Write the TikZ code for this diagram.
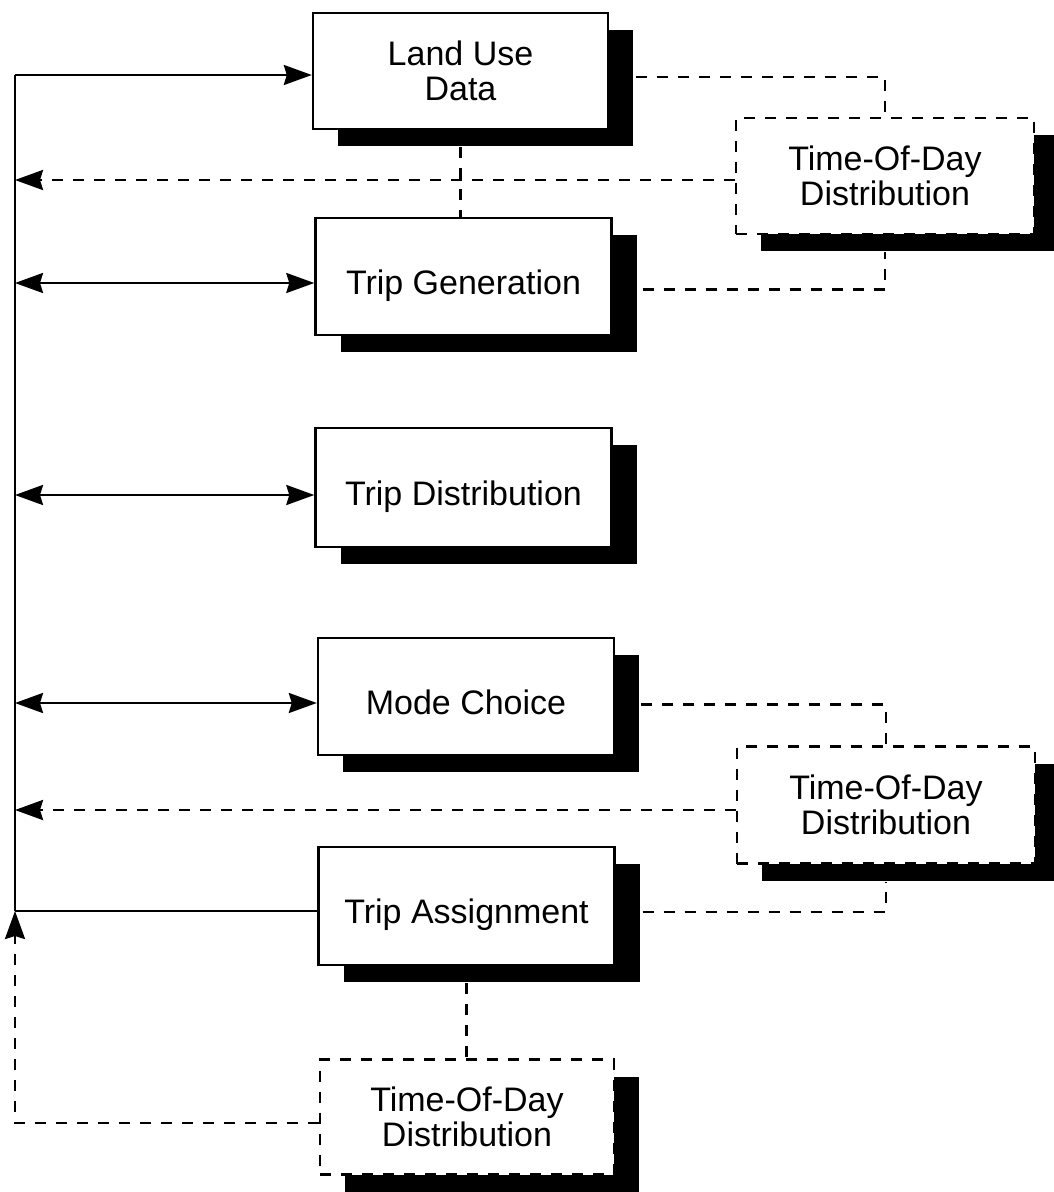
\documentclass[tikz,border=0pt]{standalone}
\usepackage{fontspec}
\setsansfont{Liberation Sans}
\usetikzlibrary{arrows.meta,shadows}

\begin{document}
\begin{tikzpicture}[
    x=1pt, y=-1pt,
    stage/.style={draw=black, line width=2.4pt, fill=white, minimum width=296pt, minimum height=117pt, inner sep=0pt, align=center, font=\sffamily\fontsize{34}{35}\selectfont,
      drop shadow={shadow xshift=25pt, shadow yshift=-17pt, opacity=1, fill=black, draw=none}},
    onerow/.style={text height=35pt, text depth=0pt},
    todbox/.style={stage, dash pattern=on 11pt off 10pt},
    arr/.style={-{Stealth[length=28pt,width=20pt,inset=3pt]}, line width=2.4pt},
    biarr/.style={{Stealth[length=28pt,width=20pt,inset=3pt]}-{Stealth[length=28pt,width=20pt,inset=3pt]}, line width=2.4pt},
    wire/.style={line width=2.4pt},
    link/.style={line width=2.6pt, dash pattern=on 11pt off 10pt},
    dasharr/.style={arr, line width=2.6pt, dash pattern=on 11pt off 10pt},
]
\path[use as bounding box, fill=white] (0,0) rectangle (1054,1192);

% ===== MODEL STEPS =====
\node[stage, minimum width=295pt, minimum height=116pt] (landuse) at (460.5,71) {Land Use\\Data};
\node[stage, onerow] (tripgen) at (463.5,276.5) {Trip Generation};
\node[stage, onerow, minimum height=119pt] (tripdist) at (463.5,487.5) {Trip Distribution};
\node[stage, onerow] (mode) at (466,696.5) {Mode Choice};
\node[stage, onerow, minimum height=118pt] (assign) at (466.5,906) {Trip Assignment};

% ===== TIME-OF-DAY BOXES =====
\node[todbox, minimum width=298pt, minimum height=116pt] (tod1) at (885,176) {Time-Of-Day\\Distribution};
\node[todbox, minimum width=298pt] (tod2) at (886,805) {Time-Of-Day\\Distribution};
\node[todbox, minimum width=294pt, minimum height=115pt] (tod3) at (467,1117) {Time-Of-Day\\Distribution};

% ===== FEEDBACK SPINE =====
\coordinate (sp1) at (15,75);
\coordinate (sp2) at (15,180);
\coordinate (sp3) at (15,283);
\coordinate (sp4) at (15,495);
\coordinate (sp5) at (15,703);
\coordinate (sp6) at (15,810);
\coordinate (sp7) at (15,911);
\coordinate (sp8) at (15,1123);

\draw[wire] (sp1) -- (sp7);
\draw[arr] (sp1) -- (sp1 -| landuse.west);
\draw[biarr] (sp3) -- (sp3 -| tripgen.west);
\draw[biarr] (sp4) -- (sp4 -| tripdist.west);
\draw[biarr] (sp5) -- (sp5 -| mode.west);
\draw[wire] (sp7 -| assign.west) -- (sp7);
\draw[dasharr] (sp2 -| tod1.west) -- (sp2);
\draw[dasharr] (sp6 -| tod2.west) -- (sp6);
\draw[dasharr] (sp8 -| tod3.west) -- (sp8) -- (sp7);

% ===== DASHED LINKS =====
\draw[link] ([yshift=-17pt]landuse.south) -- (landuse.south |- tripgen.north);
\draw[link] ([xshift=27pt,yshift=-6pt]landuse.east) -| (tod1.north);
\draw[link] ([xshift=30pt,yshift=-13pt]tripgen.east) -| ([yshift=-17pt]tod1.south);
\draw[link] ([xshift=26pt,yshift=-8pt]mode.east) -| (tod2.north);
\draw[link] ([xshift=27pt,yshift=-6pt]assign.east) -| ([yshift=-17pt]tod2.south);
\draw[link] ([yshift=-17pt]assign.south) -- (assign.south |- tod3.north);

\end{tikzpicture}
\end{document}
